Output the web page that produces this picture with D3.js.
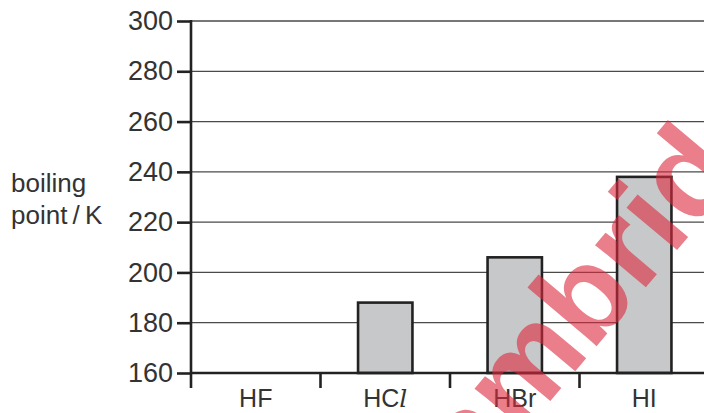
<!DOCTYPE html>
<html>
<head>
<meta charset="utf-8">
<script src="https://cdn.jsdelivr.net/npm/d3@7"></script>
<style>
  body { margin: 0; background: #fff; }
  svg { display: block; font-family: "Liberation Sans", Arial, sans-serif; }
</style>
</head>
<body>
<div id="chart"></div>
<script>
// Boiling points of the hydrogen halides (HF left blank in the original)
const compounds = ["HF", "HCl", "HBr", "HI"];
const boilingPoints = [null, 188, 206, 238];
const yTicks = [160, 180, 200, 220, 240, 260, 280, 300];

const width = 704;
const height = 413;
const margin = { top: 21, right: -5, bottom: 40, left: 191 };

const svg = d3.select("#chart").append("svg")
    .attr("width", width)
    .attr("height", height);

const x = d3.scaleBand()
    .domain(compounds)
    .range([margin.left, width - margin.right])
    .padding(0);

const y = d3.scaleLinear()
    .domain([160, 300])
    .range([height - margin.bottom, margin.top]);

const baseY = y(160);
const barW = x.bandwidth() * 0.42;

// horizontal grid lines
svg.append("g")
    .selectAll("line")
    .data(yTicks.filter(d => d > 160))
    .enter()
    .append("line")
    .attr("x1", margin.left)
    .attr("x2", width)
    .attr("y1", d => y(d))
    .attr("y2", d => y(d))
    .attr("stroke", "#4a4a4a")
    .attr("stroke-width", 1.3);

// bars
const rows = compounds.map((c, i) => ({ name: c, value: boilingPoints[i] }))
    .filter(d => d.value != null);

svg.append("g")
    .selectAll("rect")
    .data(rows)
    .enter()
    .append("rect")
    .attr("x", d => x(d.name) + (x.bandwidth() - barW) / 2)
    .attr("y", d => y(d.value))
    .attr("width", barW)
    .attr("height", d => baseY - y(d.value))
    .attr("fill", "#c7c8ca")
    .attr("stroke", "#222")
    .attr("stroke-width", 2.6);

// y axis
const yAxis = svg.append("g")
    .attr("transform", `translate(${margin.left},0)`)
    .call(d3.axisLeft(y).tickValues(yTicks).tickSize(14).tickPadding(4).tickSizeOuter(0));
yAxis.select(".domain").remove();
yAxis.selectAll(".tick line").attr("stroke", "#222").attr("stroke-width", 2.6);
yAxis.selectAll(".tick text")
    .attr("fill", "#333")
    .style("font-size", "27px")
    .style("font-family", "'Liberation Sans', Arial, sans-serif");

// vertical axis line, running a little below 160
svg.append("line")
    .attr("x1", margin.left).attr("x2", margin.left)
    .attr("y1", y(300) - 1).attr("y2", baseY + 15)
    .attr("stroke", "#222").attr("stroke-width", 2.6);

// x axis baseline
svg.append("line")
    .attr("x1", margin.left).attr("x2", width)
    .attr("y1", baseY).attr("y2", baseY)
    .attr("stroke", "#222").attr("stroke-width", 2.6);

// category boundary ticks
svg.append("g")
    .selectAll("line")
    .data(compounds.slice(1))
    .enter()
    .append("line")
    .attr("x1", d => x(d)).attr("x2", d => x(d))
    .attr("y1", baseY).attr("y2", baseY + 15)
    .attr("stroke", "#222").attr("stroke-width", 2.6);

// category labels
const labels = svg.append("g")
    .selectAll("text")
    .data(compounds)
    .enter()
    .append("text")
    .attr("x", d => x(d) + x.bandwidth() / 2)
    .attr("y", 407)
    .attr("text-anchor", "middle")
    .attr("fill", "#333")
    .style("font-size", "25px");
labels.each(function(d) {
    const t = d3.select(this);
    if (d === "HCl") {
        t.append("tspan").text("HC");
        t.append("tspan")
            .style("font-style", "italic")
            .style("font-family", "'DejaVu Serif', serif")
            .text("l");
    } else {
        t.text(d);
    }
});

// y axis title
const title = svg.append("text")
    .attr("x", 11)
    .attr("fill", "#333")
    .style("font-size", "26px");
title.append("tspan").attr("x", 11).attr("y", 192).text("boiling");
title.append("tspan").attr("x", 11).attr("y", 224).text("point\u2009/\u2009K");

// watermark
svg.append("text")
    .attr("transform", "translate(417,560) rotate(-50)")
    .attr("fill", "rgb(220,40,60)")
    .attr("fill-opacity", 0.6)
    .style("font-size", "125px")
    .style("font-weight", "bold")
    .style("font-family", "'Liberation Sans', Arial, sans-serif")
    .text("Cambridge");
</script>
</body>
</html>
